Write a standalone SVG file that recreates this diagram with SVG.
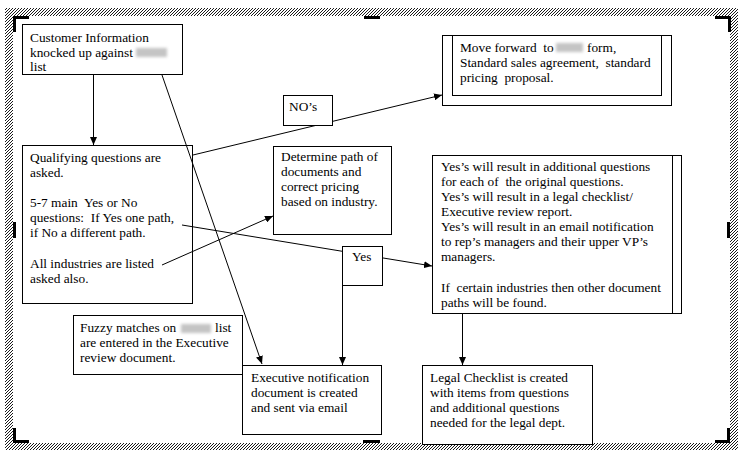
<svg xmlns="http://www.w3.org/2000/svg" width="745" height="457" viewBox="0 0 745 457">
<defs>
<pattern id="hatch" patternUnits="userSpaceOnUse" width="3" height="3">
<path d="M-1,1 L1,-1 M0,3 L3,0 M2,4 L4,2" stroke="#000" stroke-width="0.9"/>
</pattern>
<filter id="blur" x="-30%" y="-60%" width="160%" height="220%"><feGaussianBlur stdDeviation="1.6"/></filter>
<marker id="arr" markerUnits="userSpaceOnUse" markerWidth="9" markerHeight="7" refX="8" refY="3.5" orient="auto">
<path d="M0,0 L8,3.5 L0,7 z" fill="#000"/>
</marker>
</defs>
<style>
.box{fill:#fff;stroke:#000;stroke-width:1}
text{font-family:'Liberation Serif','DejaVu Serif',serif;font-size:13.33px;fill:#000;white-space:pre}
.c{fill:none;stroke:#000;stroke-width:1}
.h{fill:#000}
.red{fill:#c4c4c4;filter:url(#blur)}
</style>
<rect width="745" height="457" fill="#fff"/>
<g id="frame">
<path d="M5,8 H738 V450 H5 Z M13,16 V443 H730 V16 Z" fill="url(#hatch)" fill-rule="evenodd"/>
<rect class="h" x="13" y="16" width="3" height="16"/>
<rect class="h" x="13" y="16" width="16" height="3"/>
<rect class="h" x="364" y="16" width="16" height="3"/>
<rect class="h" x="715" y="16" width="16" height="3"/>
<rect class="h" x="728" y="16" width="3" height="16"/>
<rect class="h" x="13" y="222" width="3" height="16"/>
<rect class="h" x="727" y="222" width="3" height="16"/>
<rect class="h" x="13" y="428" width="3" height="15"/>
<rect class="h" x="13" y="440" width="16" height="3"/>
<rect class="h" x="363" y="440" width="17" height="3"/>
<rect class="h" x="727" y="428" width="3" height="15"/>
<rect class="h" x="715" y="440" width="15" height="3"/>
</g>
<g id="customer" font-family="Liberation Serif, DejaVu Serif, serif">
<rect class="box" x="22.5" y="24.5" width="160" height="50"/>
<text x="30" y="42">Customer Information</text>
<text x="30" y="57">knocked up against</text>
<rect class="red" x="136" y="48" width="31" height="9"/>
<text x="30" y="71">list</text>
</g>
<g id="qualifying">
<rect class="box" x="22.5" y="145.5" width="170" height="158"/>
<text x="30" y="162">Qualifying questions are</text>
<text x="30" y="177">asked.</text>
<text x="30" y="207">5-7 main  Yes or No</text>
<text x="30" y="222">questions:  If Yes one path,</text>
<text x="30" y="237">if No a different path.</text>
<text x="30" y="268">All industries are listed</text>
<text x="30" y="283">asked also.</text>
</g>
<g id="determine">
<rect class="box" x="273.5" y="146.5" width="118" height="88"/>
<text x="281" y="161">Determine path of</text>
<text x="281" y="176">documents and</text>
<text x="281" y="191">correct pricing</text>
<text x="281" y="206">based on industry.</text>
</g>
<g id="moveforward">
<rect class="box" x="442.5" y="35.5" width="229" height="70"/>
<rect class="box" x="452.5" y="35.5" width="209" height="60"/>
<text x="460" y="52">Move forward  to</text>
<rect class="red" x="556" y="43" width="27" height="9"/>
<text x="587" y="52">form,</text>
<text x="460" y="67">Standard sales agreement,  standard</text>
<text x="460" y="82">pricing  proposal.</text>
</g>
<g id="yesresults">
<rect class="box" x="432.5" y="155.5" width="249" height="158"/>
<line class="c" x1="672.5" y1="155.5" x2="672.5" y2="313.5"/>
<text x="441" y="171">Yes’s will result in additional questions</text>
<text x="441" y="186">for each of  the original questions.</text>
<text x="441" y="201">Yes’s will result in a legal checklist/</text>
<text x="441" y="216">Executive review report.</text>
<text x="441" y="231">Yes’s will result in an email notification</text>
<text x="441" y="246">to rep’s managers and their upper VP’s</text>
<text x="441" y="261">managers.</text>
<text x="441" y="292">If  certain industries then other document</text>
<text x="441" y="307">paths will be found.</text>
</g>
<g id="fuzzy">
<rect class="box" x="73.5" y="315.5" width="169" height="59"/>
<text x="80" y="332">Fuzzy matches on</text>
<rect class="red" x="181" y="324" width="30" height="9"/>
<text x="215" y="332">list</text>
<text x="80" y="347">are entered in the Executive</text>
<text x="80" y="362">review document.</text>
</g>
<g id="execnotify">
<rect class="box" x="242.5" y="365.5" width="139" height="69"/>
<text x="251" y="382">Executive notification</text>
<text x="251" y="397">document is created</text>
<text x="251" y="412">and sent via email</text>
</g>
<g id="legal">
<rect class="box" x="422.5" y="365.5" width="170" height="79"/>
<text x="430" y="382">Legal Checklist is created</text>
<text x="430" y="397">with items from questions</text>
<text x="430" y="412">and additional questions</text>
<text x="430" y="427">needed for the legal dept.</text>
</g>
<g id="connectors">
<line class="c" x1="93.5" y1="75" x2="93.5" y2="145" marker-end="url(#arr)"/>
<line class="c" x1="162" y1="75" x2="262" y2="364" marker-end="url(#arr)"/>
<line class="c" x1="193" y1="155" x2="442" y2="95" marker-end="url(#arr)"/>
<line class="c" x1="162" y1="265" x2="273" y2="216" marker-end="url(#arr)"/>
<line class="c" x1="182" y1="225" x2="432" y2="266" marker-end="url(#arr)"/>
<line class="c" x1="342.5" y1="275" x2="342.5" y2="365" marker-end="url(#arr)"/>
<line class="c" x1="462.5" y1="314" x2="462.5" y2="365" marker-end="url(#arr)"/>
</g>
<g id="nos">
<rect class="box" x="283.5" y="95.5" width="49" height="30"/>
<text x="289" y="111">NO’s</text>
</g>
<g id="yes">
<rect class="box" x="342.5" y="246.5" width="40" height="39"/>
<text x="352" y="261">Yes</text>
</g>
</svg>
